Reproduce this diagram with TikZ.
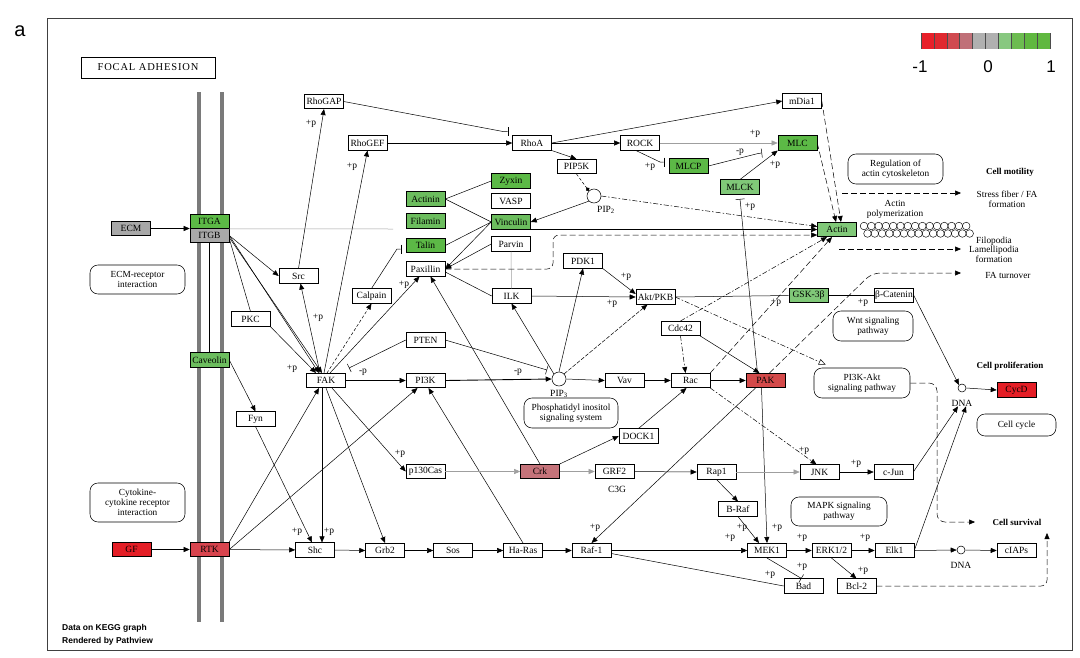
\documentclass[tikz,border=0pt]{standalone}
\usepackage{fontspec}
\setmainfont{Liberation Serif}
\newfontfamily\sansf{Liberation Sans}
\newfontfamily\spacedf[LetterSpace=8]{Liberation Serif}
\usetikzlibrary{arrows.meta,calc}
\definecolor{gDark}{HTML}{5CB946}
\definecolor{gMid}{HTML}{6CBD5E}
\definecolor{gLight}{HTML}{80C878}
\definecolor{grayN}{HTML}{A8A8A8}
\definecolor{redA}{HTML}{E41E26}
\definecolor{redB}{HTML}{D8444E}
\definecolor{redC}{HTML}{D44A4A}
\definecolor{rose}{HTML}{C5737A}
\definecolor{memb}{HTML}{7A7A7A}
\definecolor{cb1}{HTML}{E8202A}
\definecolor{cb2}{HTML}{E0282F}
\definecolor{cb3}{HTML}{D04A50}
\definecolor{cb4}{HTML}{C07078}
\definecolor{cb5}{HTML}{B0B0B0}
\definecolor{cb7}{HTML}{88C880}
\definecolor{cb8}{HTML}{6CBC50}
\definecolor{cb9}{HTML}{60B840}
\begin{document}
\begin{tikzpicture}[x=1pt,y=-1pt,
  gene/.style={draw, line width=0.55pt, minimum width=39pt, minimum height=14.5pt, inner sep=0pt, fill=white, font=\fontsize{9.5}{10}\selectfont},
  pwbox/.style={draw, line width=0.55pt, rounded corners=8pt, align=center, inner sep=0pt, font=\fontsize{9.3}{9.8}\selectfont},
  lbl/.style={inner sep=0pt, font=\fontsize{9.5}{9.5}\selectfont},
  txt/.style={inner sep=0pt, align=center, font=\fontsize{9.3}{9.6}\selectfont},
  btxt/.style={inner sep=0pt, font=\fontsize{9}{9.5}\selectfont\bfseries},
  ar/.style={-{Triangle[length=6pt,width=5pt]}, line width=0.5pt},
  inh/.style={-{Bar[width=9pt]}, line width=0.5pt},
  dsh/.style={dash pattern=on 6pt off 3pt},
  dd/.style={dash pattern=on 5pt off 2pt on 1.5pt off 2pt},
  lg/.style={draw=gray!75}
]
\useasboundingbox (0,0) rectangle (1080,657);
\fill[white] (0,0) rectangle (1080,657);
% frame and labels
\draw[line width=0.8pt, draw=black!75] (47,18) rectangle (1072,650);
\node[inner sep=0] (lettera) at (20,31) {\sansf\fontsize{20}{20}\selectfont a};
\node[draw, line width=1pt, minimum width=134pt, minimum height=21pt, inner sep=0] (focal) at (148,67.5) {\spacedf\fontsize{10.5}{10.5}\selectfont FOCAL ADHESION};
\node[anchor=west, inner sep=0] (data1) at (62,628) {\sansf\bfseries\fontsize{8.5}{9}\selectfont Data on KEGG graph};
\node[anchor=west, inner sep=0] (data2) at (62,641) {\sansf\bfseries\fontsize{8.5}{9}\selectfont Rendered by Pathview};
% colour bar
\foreach \c [count=\i from 0] in {cb1,cb2,cb3,cb4,cb5,cb5,cb7,cb8,cb9,cb9} {
  \fill[\c] ({921+12.9*\i},33) rectangle ++(12.9,16);
  \draw[black!70, line width=0.5pt] ({921+12.9*\i},33) -- ++(0,16);
}
\draw[black!70, line width=0.5pt] (1050,33) -- ++(0,16);
\node[inner sep=0] (cbm) at (920,67) {\sansf\fontsize{17}{17}\selectfont -1};
\node[inner sep=0] (cbz) at (988,67) {\sansf\fontsize{17}{17}\selectfont 0};
\node[inner sep=0] (cbp) at (1051,67) {\sansf\fontsize{17}{17}\selectfont 1};
% membrane
\draw[memb, line width=4pt] (199,92) -- (199,622);
\draw[memb, line width=4pt] (222,92) -- (222,622);

% genes
\node[gene, minimum height=14pt, fill=gDark] (itga) at (209.5,221.5) {ITGA};
\node[gene, minimum height=14pt, fill=grayN] (itgb) at (209.5,235.5) {ITGB};
\node[gene, fill=grayN] (ecm) at (131,228.5) {ECM};
\node[gene, fill=gMid] (caveolin) at (209.5,360) {Caveolin};
\node[gene] (fyn) at (255.5,419) {Fyn};
\node[gene] (pkc) at (250.5,319) {PKC};
\node[gene] (src) at (298.5,276) {Src};
\node[gene] (fak) at (326,380.5) {FAK};
\node[gene] (rhogap) at (324,101.5) {RhoGAP};
\node[gene] (rhogef) at (367.5,143) {RhoGEF};
\node[gene] (rhoa) at (532,143) {RhoA};
\node[gene] (rock) at (640,143) {ROCK};
\node[gene] (pip5k) at (576.5,166.5) {PIP5K};
\node[gene, fill=gDark] (mlcp) at (688.5,166) {MLCP};
\node[gene] (mdia1) at (802,101) {mDia1};
\node[gene, fill=gDark] (mlc) at (797.5,143) {MLC};
\node[gene, fill=gLight] (mlck) at (740,187) {MLCK};
\node[gene, fill=gDark] (zyxin) at (511,181) {Zyxin};
\node[gene] (vasp) at (511,201) {VASP};
\node[gene, fill=gMid] (vinculin) at (511,222) {Vinculin};
\node[gene] (parvin) at (511,244) {Parvin};
\node[gene, fill=gMid] (actinin) at (425.5,199) {Actinin};
\node[gene, fill=gMid] (filamin) at (425.5,221) {Filamin};
\node[gene, fill=gDark] (talin) at (425.5,245.5) {Talin};
\node[gene] (paxillin) at (425.5,269) {Paxillin};
\node[gene, fill=gLight] (actin) at (837,229.5) {Actin};
\node[gene] (calpain) at (371.5,296) {Calpain};
\node[gene] (pdk1) at (583,261) {PDK1};
\node[gene] (ilk) at (511.5,296) {ILK};
\node[gene] (akt) at (655.5,297) {Akt/PKB};
\node[gene, fill=gLight] (gsk) at (808.5,295.5) {GSK-3β};
\node[gene] (bcat) at (894,295.5) {β-Catenin};
\node[gene] (pten) at (425.5,340) {PTEN};
\node[gene] (pi3k) at (425.5,380.5) {PI3K};
\node[gene] (vav) at (624.5,380.5) {Vav};
\node[gene] (rac) at (690.5,380.5) {Rac};
\node[gene, fill=redC] (pak) at (765.5,380.5) {PAK};
\node[gene] (cdc42) at (680.5,328.5) {Cdc42};
\node[gene] (dock1) at (638.5,436) {DOCK1};
\node[gene] (p130cas) at (425.5,471.5) {p130Cas};
\node[gene, fill=rose] (crk) at (540,471.5) {Crk};
\node[gene] (grf2) at (614.5,471.5) {GRF2};
\node[gene] (rap1) at (716.5,472) {Rap1};
\node[gene] (jnk) at (819.5,472) {JNK};
\node[gene] (cjun) at (893.5,472) {c-Jun};
\node[gene] (braf) at (738,509) {B-Raf};
\node[gene, fill=redA] (gf) at (131.5,549.5) {GF};
\node[gene, fill=redB] (rtk) at (209.5,549.5) {RTK};
\node[gene] (shc) at (315,550) {Shc};
\node[gene] (grb2) at (385,550.5) {Grb2};
\node[gene] (sos) at (453,550.5) {Sos};
\node[gene] (hras) at (523,550.5) {Ha-Ras};
\node[gene] (raf1) at (591.5,550.5) {Raf-1};
\node[gene] (mek1) at (767,550.5) {MEK1};
\node[gene] (erk) at (831.5,550.5) {ERK1/2};
\node[gene] (elk1) at (894.5,550.5) {Elk1};
\node[gene] (ciaps) at (1016.5,550.5) {cIAPs};
\node[gene] (bad) at (803.5,586) {Bad};
\node[gene] (bcl2) at (856.5,586) {Bcl-2};
\node[gene, fill=redA] (cycd) at (1016.5,390) {CycD};

% compounds
\node[circle, draw, line width=0.55pt, minimum size=14pt, inner sep=0] (pip2) at (594,196) {};
\node[lbl] (pip2l) at (606,210) {PIP\textsubscript{2}};
\node[circle, draw, line width=0.55pt, minimum size=14pt, inner sep=0] (pip3) at (559,379) {};
\node[lbl] (pip3l) at (559,394) {PIP\textsubscript{3}};
\node[circle, draw, line width=0.55pt, minimum size=8pt, inner sep=0] (dna1) at (962,388) {};
\node[lbl] (dna1l) at (962,403) {DNA};
\node[circle, draw, line width=0.55pt, minimum size=8pt, inner sep=0] (dna2) at (961,550) {};
\node[lbl] (dna2l) at (961,565) {DNA};
\node[lbl] (c3g) at (617,489) {C3G};

% pathway boxes
\node[pwbox, minimum width=95pt, minimum height=29pt] (ecmri) at (137.5,279.5) {ECM-receptor\\interaction};
\node[pwbox, minimum width=95pt, minimum height=39pt] (cytok) at (137.5,502.5) {Cytokine-\\cytokine receptor\\interaction};
\node[pwbox, minimum width=94pt, minimum height=30pt] (pis) at (571,413) {Phosphatidyl inositol\\signaling system};
\node[pwbox, minimum width=80pt, minimum height=30pt] (wnt) at (873,326) {Wnt signaling\\pathway};
\node[pwbox, minimum width=96pt, minimum height=30pt] (pi3kakt) at (862,383) {PI3K-Akt\\signaling pathway};
\node[pwbox, minimum width=79pt, minimum height=22pt] (cellcycle) at (1016.5,425) {Cell cycle};
\node[pwbox, minimum width=96pt, minimum height=29pt] (mapk) at (839,511.5) {MAPK signaling\\pathway};
\node[pwbox, minimum width=95pt, minimum height=30pt] (regact) at (895.5,169) {Regulation of\\actin cytoskeleton};

% outcome texts
\node[btxt] (cellmot) at (1010,172) {Cell motility};
\node[txt] (sff) at (1007,199.5) {Stress fiber / FA\\formation};
\node[txt] (actpol) at (895,209.5) {Actin\\polymerization};
\node[txt] (filo) at (994,249.5) {Filopodia\\Lamellipodia\\formation};
\node[txt] (fatur) at (1008,275.5) {FA turnover};
\node[btxt] (cellprol) at (1010,366) {Cell proliferation};
\node[btxt] (cellsurv) at (1017,522) {Cell survival};

% actin chain
\foreach \i in {0,...,14} {
  \draw[line width=0.45pt] ({864+7.3*\i},226) circle (3.8);
  \draw[line width=0.45pt] ({867.5+7.3*\i},233.5) circle (3.8);
}

% coordinates
\coordinate (itgend) at (393,229);
\coordinate (sfs) at (842,193);
\coordinate (sfe) at (961,193);
\coordinate (fls) at (839,249);
\coordinate (fle) at (961,249);
\coordinate (fae) at (961,273);
\coordinate (cse) at (975,522);
\coordinate (pxc) at (553,235);
\coordinate (fakinh) at (349,368);
\coordinate (csend) at (1047,533);

% --- connectors
\draw[ar] (ecm.east) -- (ecm.east -| itga.west);
\draw[ar] (gf) -- (rtk);
\draw[ar] (rtk) -- (shc);
\draw[lg, line width=0.5pt] (itga.south east) -- (itgend);
\draw[line width=0.55pt] (itgb.south) -- (caveolin.north);
\draw[ar] (itgb.east) -- (src.west);
\draw[ar] (itgb.east) -- ([xshift=-7pt]fak.north);
\draw[ar] ([yshift=-2pt]itgb.east) -- ([xshift=-4pt]fak.north);
\draw[line width=0.5pt] ([yshift=-3pt]itgb.east) -- (pkc.north);
\draw[ar] (pkc.south east) -- ([xshift=-10pt]fak.north);
\draw[ar] (caveolin.east) -- (fyn.north);
\draw[ar] (fyn.south) -- ([xshift=-3pt]shc.north);
\draw[ar] ([xshift=-4pt]fak.south) -- ([xshift=7pt]shc.north);
\draw[ar] (rtk.north east) -- ([xshift=-7pt]fak.south);
\draw[ar] (rtk.east) -- ([xshift=-8pt]pi3k.south);
\draw[ar] (fak.south) -- (grb2.north);
\draw[ar] ([xshift=6pt]fak.south) -- (p130cas.west);
\draw[ar] (fak.east) -- (pi3k.west);
\draw[ar] ([xshift=-6pt]fak.north) -- ([xshift=2pt]src.south);
\draw[ar] (src.north) -- (rhogap.south);
\draw[ar] ([xshift=-2pt]fak.north) -- (rhogef.south);
\draw[ar, dash pattern=on 3pt off 2pt] ([xshift=1pt]fak.north) -- (calpain.south);
\draw[ar] ([xshift=4pt]fak.north) -- ([xshift=-6pt]paxillin.south);
\draw[inh] (pten.west) -- (fakinh);
\draw[ar] (hras.north) -- ([xshift=3pt]pi3k.south);
\draw[ar] (crk.north) -- ([xshift=5pt]paxillin.south);
\draw[inh] (calpain.north) -- (397,249) -- (401,249);
\draw[line width=0.5pt] (actinin.east) -- (zyxin.west);
\draw[line width=0.5pt] (actinin.east) -- (vinculin.west);
\draw[line width=0.5pt] (talin.east) -- (vinculin.west);
\draw[ar] (vinculin.west) -- (paxillin.east);
\draw[ar] (parvin.west) -- (paxillin.east);
\draw[line width=0.5pt] ([yshift=-3pt]paxillin.east) -- (ilk.west);
\draw[lg, line width=0.5pt] (parvin.south) -- (ilk.north);
\draw[ar, dsh, rounded corners=6pt] (paxillin.east) -- (paxillin.east -| pxc) -- (pxc) -- (pxc -| actin.west);
\draw[ar] (vinculin.south east) -- (vinculin.south east -| actin.west);
% Rho
\draw[inh] (rhogap.east) -- (503,131.5) -- (508,131.5);
\draw[ar] (rhogef.east) -- (rhoa.west);
\draw[ar] (rhoa.east) -- (rock.west);
\draw[ar] (rhoa.south east) -- (pip5k.north);
\draw[ar] (rhoa.east) -- (mdia1.west);
\draw[ar, lg] (rock.east) -- (rock.east -| mlc.west);
\draw[inh] ([xshift=-4pt]rock.south) -- (660,162) -- (664,162);
\draw[inh] (mlcp.east) -- (758,153.5) -- (762,153);
\draw[ar] (mlck.north) -- (mlc.south west);
\draw[inh] ([xshift=-8pt]pak.north) -- (740,199);
\draw[-{Circle[length=4pt]}, line width=0.5pt, dash pattern=on 3pt off 2pt] (pip5k.south) -- (pip2.north west);
\draw[ar] (pip2.south west) -- (vinculin.east);
\draw[ar, dd] (pip2.east) -- ([yshift=3pt]actin.west);
\draw[ar, dsh] (mdia1.east) -- ([xshift=4pt]actin.north);
\draw[ar, dsh] (mlc.east) -- ([xshift=-1pt]actin.north);
\draw[ar, dsh] (rac.north east) -- ([xshift=-5pt]actin.south);
\draw[ar, dd] (cdc42.north) -- ([xshift=-10pt]actin.south);
\draw[ar, dsh] (sfs) -- (sfe);
\draw[ar, dsh] (fls) -- (fle);
\draw[ar, dsh, rounded corners=8pt] ([xshift=4pt]pak.north) -- (872,273) -- (fae);
% PIP3 hub
\draw[ar, line width=0.9pt] (pi3k.east) -- (pip3.west);
\draw[inh] (pten.east) -- ($(pip3)+(-12,-9)$);
\draw[ar] (pip3.east) -- (vav.west);
\draw[ar] (pip3.north west) -- (ilk.south);
\draw[ar] (pip3.north) -- (pdk1.south);
\draw[ar, dash pattern=on 4pt off 1.5pt] (pip3.north east) -- ([xshift=-8pt]akt.south);
\draw[ar] (pdk1.south east) -- ([yshift=3pt]akt.west);
\draw[ar] (ilk.east) -- (akt.west);
\draw[line width=0.5pt] (akt.east) -- (gsk.west);
\draw[inh] (gsk.east) -- (bcat.west);
\draw[ar] (bcat.east) -- (dna1.north west);
\draw[ar] (dna1.east) -- (cycd.west);
\draw[-{Triangle[open,length=7pt,width=6pt]}, dd, line width=0.5pt] (akt.east) -- ([xshift=12pt,yshift=3pt]pi3kakt.north west);
\draw[ar, dsh, rounded corners=8pt] (pi3kakt.east) -- (937,383) -- (937,522) -- (cse);
% Rac / PAK
\draw[ar] (vav.east) -- (rac.west);
\draw[ar] (rac.east) -- (pak.west);
\draw[ar, dd] (cdc42.south) -- ([xshift=-5pt]rac.north);
\draw[ar] (cdc42.south east) -- ([xshift=-6pt]pak.north);
\draw[ar] (dock1.north) -- ([xshift=-4pt]rac.south);
\draw[ar, dd] (rac.south east) -- ([xshift=-3pt]jnk.north);
\draw[ar] ([xshift=-4pt]pak.south) -- (mek1.north);
\draw[ar] ([xshift=-10pt]pak.south) -- (raf1.north);
% Crk branch
\draw[ar, lg] (p130cas.east) -- (crk.west);
\draw[ar] (crk.north east) -- (dock1.west);
\draw[ar, lg] (crk.east) -- (grf2.west);
\draw[ar] (grf2.east) -- (rap1.west);
\draw[ar, lg] (rap1.east) -- (jnk.west);
\draw[ar] (rap1.south) -- (braf.north);
\draw[ar] (braf.south) -- ([xshift=-8pt]mek1.north);
\draw[ar] (jnk.east) -- (cjun.west);
\draw[ar] (cjun.east) -- ([xshift=-4pt]dna1l.south);
\draw[ar] (elk1.east) -- ([xshift=4pt]dna1l.south);
% Ras-MAPK
\draw[ar] (shc.east) -- (grb2.west);
\draw[ar] (grb2.east) -- (sos.west);
\draw[ar] (sos.east) -- (hras.west);
\draw[ar] (hras.east) -- (raf1.west);
\draw[ar] (raf1.east) -- (mek1.west);
\draw[ar] (mek1.east) -- (erk.west);
\draw[ar] (erk.east) -- (elk1.west);
\draw[ar] (elk1.east) -- (dna2.west);
\draw[ar] (dna2.east) -- (ciaps.west);
\draw[line width=0.5pt] ([yshift=-3pt]raf1.east) -- (bad.west);
\draw[inh] (mek1.south) -- ([xshift=-2pt]bad.north);
\draw[ar] (erk.south) -- (bcl2.north);
\draw[ar, dsh, rounded corners=6pt] (bcl2.east) -- (bcl2.east -| csend) -- (csend);

% +p / -p labels
\node[lbl] (l1) at (311,124) {+p};
\node[lbl] (l2) at (352,167) {+p};
\node[lbl] (l3) at (318,318) {+p};
\node[lbl] (l4) at (404,285) {+p};
\node[lbl] (l5) at (292,369) {+p};
\node[lbl] (l6) at (363,372) {-p};
\node[lbl] (l7) at (518,372) {-p};
\node[lbl] (l8) at (612,304) {+p};
\node[lbl] (l9) at (626,277) {+p};
\node[lbl] (l10) at (650,167) {+p};
\node[lbl] (l11) at (755,134) {+p};
\node[lbl] (l12) at (740,152) {-p};
\node[lbl] (l13) at (775,165) {+p};
\node[lbl] (l14) at (750,207) {+p};
\node[lbl] (l15) at (776,303) {+p};
\node[lbl] (l16) at (863,303) {+p};
\node[lbl] (l17) at (804,451) {+p};
\node[lbl] (l18) at (856,464) {+p};
\node[lbl] (l19) at (400,454) {+p};
\node[lbl] (l20) at (297,532) {+p};
\node[lbl] (l21) at (329,532) {+p};
\node[lbl] (l22) at (595,528) {+p};
\node[lbl] (l23) at (730,538) {+p};
\node[lbl] (l24) at (742,528) {+p};
\node[lbl] (l25) at (777,528) {+p};
\node[lbl] (l26) at (802,538) {+p};
\node[lbl] (l27) at (865,538) {+p};
\node[lbl] (l28) at (802,567) {+p};
\node[lbl] (l29) at (770,575) {+p};
\node[lbl] (l30) at (863,571) {+p};
\end{tikzpicture}
\end{document}
